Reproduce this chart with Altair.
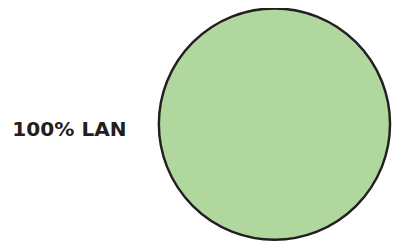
import math
import altair as alt
import pandas as pd

categories = ["LAN"]
values = [100]

df = pd.DataFrame({"category": categories, "value": values})

base = alt.Chart(df).transform_joinaggregate(
    total="sum(value)"
).transform_calculate(
    label="format(datum.value / datum.total * 100, 'd') + '% ' + datum.category"
).encode(
    theta=alt.Theta("value:Q", stack=True,
                    scale=alt.Scale(range=[math.pi / 2, 5 * math.pi / 2])),
    x=alt.value(272),
    y=alt.value(116),
)

pie = base.mark_arc(
    outerRadius=118, fill="#b0d89e", stroke="#231f20", strokeWidth=2.5
)

labels = base.mark_text(
    radius=151, align="right", baseline="middle", dy=6,
    font="DejaVu Sans", fontWeight="bold", fontSize=20.5, color="#231f20"
).encode(text="label:N")

chart = alt.layer(pie, labels).properties(
    width=392, height=239, padding=0, autosize="none"
).configure_view(stroke=None)

chart.save("out.html", embed_options={"renderer": "svg", "actions": False})
